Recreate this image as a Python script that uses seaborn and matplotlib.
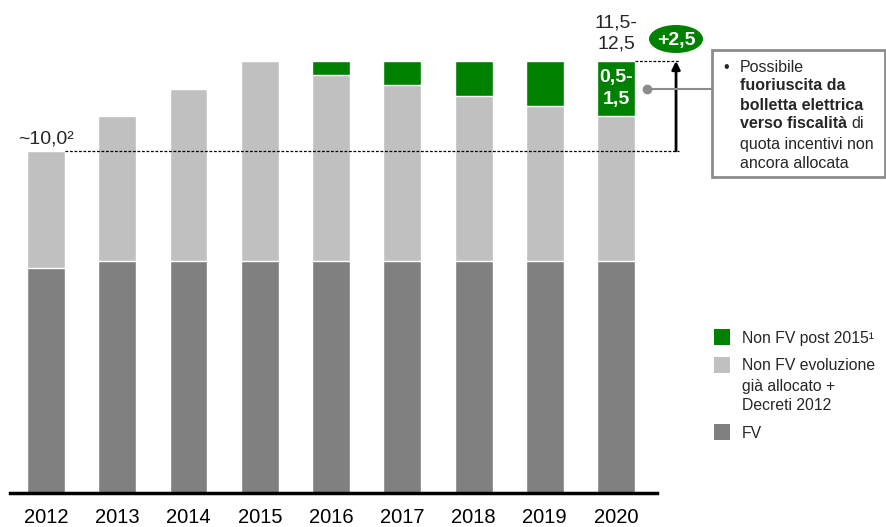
import pandas as pd
import numpy as np
import matplotlib
matplotlib.use("Agg")
import matplotlib.pyplot as plt
from matplotlib.patches import Ellipse, Rectangle
from matplotlib.lines import Line2D
import seaborn as sns

# data (bn EUR)
years = ["2012", "2013", "2014", "2015", "2016", "2017", "2018", "2019", "2020"]
fv = [6.5, 6.7, 6.7, 6.7, 6.7, 6.7, 6.7, 6.7, 6.7]
non_fv_alloc = [3.4, 4.2, 5.0, 5.8, 5.4, 5.1, 4.8, 4.5, 4.2]
non_fv_post = [0.0, 0.0, 0.0, 0.0, 0.4, 0.7, 1.0, 1.3, 1.6]

legend_labels = ["Non FV post 2015\u00b9",
                 "Non FV evoluzione\ngià allocato +\nDecreti 2012",
                 "FV"]

GREEN = "#008000"
LIGHT = "#C0C0C0"
DARK = "#808080"

sns.set_style("white")
plt.rcParams["font.family"] = ["Liberation Sans", "DejaVu Sans"]

W, H = 887, 527
fig = plt.figure(figsize=(W / 100, H / 100), dpi=100)
ax = fig.add_axes([10 / W, 1 - 493 / H, 647 / W, 493 / H])


def px(x, y):
    # pixel position (from top-left) -> figure fraction
    return x / W, 1 - y / H


df = pd.DataFrame({"year": years, "fv": fv, "alloc": non_fv_alloc, "post": non_fv_post})
df["mid"] = df["fv"] + df["alloc"]
df["top"] = df["mid"] + df["post"]

# stacked bars drawn as cumulative totals, tallest first
bar_w = 0.533
for col, c in [("top", GREEN), ("mid", LIGHT), ("fv", DARK)]:
    sns.barplot(data=df, x="year", y=col, color=c, width=bar_w, saturation=1,
                edgecolor="white", linewidth=1, errorbar=None, ax=ax)

ax.set_xlim(-0.505, 8.575)
ax.set_ylim(0, 493 / 34.56)
ax.set_xlabel("")
ax.set_ylabel("")
ax.set_yticks([])
for s in ["left", "top", "right"]:
    ax.spines[s].set_visible(False)
ax.spines["bottom"].set_color("black")
ax.spines["bottom"].set_linewidth(2.5)
ax.tick_params(axis="x", length=0, pad=11, labelsize=14.5, colors="black")

base = df["top"].iloc[0]
target = df["top"].iloc[-1]
x_arrow = (676 - 46) / 71.25
x_end = (679 - 46) / 71.25

# reference lines and arrow
ax.plot([bar_w / 2, x_end], [base, base], color="black", lw=0.9,
        ls=(0, (2.2, 1.4)), clip_on=False)
ax.plot([8 + bar_w / 2, x_end], [target, target], color="black", lw=0.9,
        ls=(0, (2.2, 1.4)), clip_on=False)
ax.annotate("", xy=(x_arrow, target), xytext=(x_arrow, base),
            arrowprops=dict(arrowstyle="-|>", color="black", lw=2, mutation_scale=12,
                            shrinkA=0, shrinkB=0),
            annotation_clip=False)

ax.text(0, base + 0.1, "~10,0\u00b2", ha="center", va="bottom", fontsize=14)
ax.text(8, target + 0.25, "11,5-\n12,5", ha="center", va="bottom", fontsize=14,
        linespacing=1.3)
ax.text(8, df["mid"].iloc[-1] + df["post"].iloc[-1] / 2, "0,5-\n1,5", ha="center",
        va="center", fontsize=14, fontweight="bold", color="white", linespacing=1.35)

# +2,5 bubble
fig.add_artist(Ellipse(px(676, 39), 54 / W, 28 / H, transform=fig.transFigure,
                       facecolor=GREEN, edgecolor="none"))
fig.text(*px(676, 40), "+2,5", ha="center", va="center", fontsize=14,
         fontweight="bold", color="white")

# callout box
fig.add_artist(Line2D([647 / W, 712 / W], [1 - 89 / H, 1 - 89 / H],
                      transform=fig.transFigure, color="#8c8c8c", lw=1.5))
fig.add_artist(Line2D([647 / W], [1 - 89 / H], transform=fig.transFigure,
                      marker="o", markersize=6, color="#8c8c8c"))
fig.add_artist(Rectangle(px(712, 177), 173 / W, 127 / H, transform=fig.transFigure,
                         facecolor="white", edgecolor="#8c8c8c", lw=2))

fs = 11.5
fig.text(*px(723, 67), "\u2022", ha="left", va="center", fontsize=fs)
fig.text(*px(740, 67), "Possibile", ha="left", va="center", fontsize=fs)
fig.text(*px(740, 86), "fuoriuscita da", ha="left", va="center", fontsize=fs, fontweight="bold")
fig.text(*px(740, 105), "bolletta elettrica", ha="left", va="center", fontsize=fs, fontweight="bold")
bold_part = fig.text(*px(740, 124), "verso fiscalità", ha="left", va="center",
                     fontsize=fs, fontweight="bold")
fig.canvas.draw()
bb = bold_part.get_window_extent(renderer=fig.canvas.get_renderer())
fig.text((bb.x1 + 4) / W, 1 - 124 / H, "di", ha="left", va="center", fontsize=fs)
fig.text(*px(740, 144), "quota incentivi non", ha="left", va="center", fontsize=fs)
fig.text(*px(740, 163), "ancora allocata", ha="left", va="center", fontsize=fs)

# legend
leg_fs = 11.3
for color, label, ytop in zip([GREEN, LIGHT, DARK], legend_labels, [329, 357, 424]):
    fig.add_artist(Rectangle(px(714, ytop + 16), 16 / W, 16 / H, transform=fig.transFigure,
                             facecolor=color, edgecolor="none"))
    for i, line in enumerate(label.split("\n")):
        fig.text(*px(742, ytop + 9 + 20 * i), line, ha="left", va="center", fontsize=leg_fs)

fig.savefig("out.png", dpi=100)
plt.close()
